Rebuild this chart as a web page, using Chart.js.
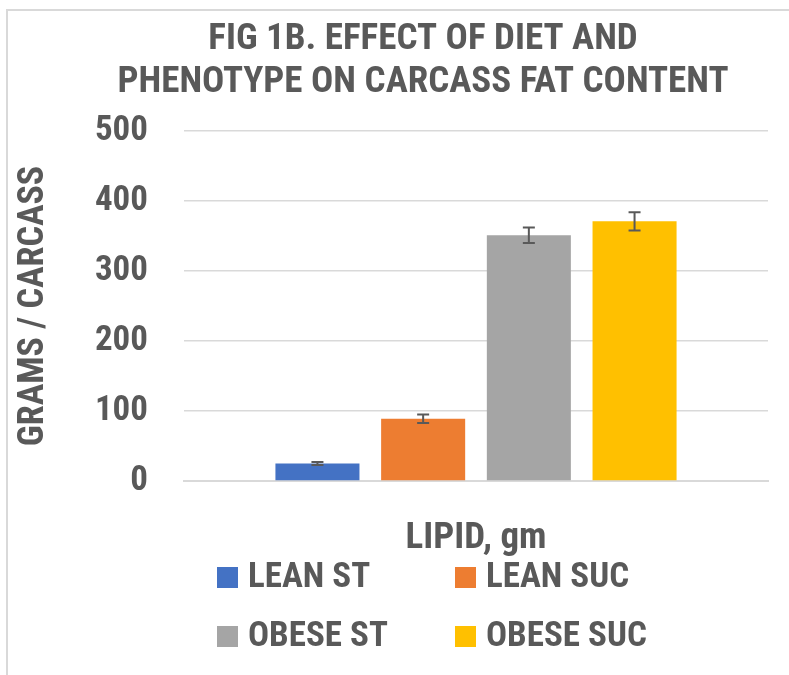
<!DOCTYPE html>
<html>
<head>
<meta charset="utf-8">
<title>Fig 1B</title>
<script src="https://cdn.jsdelivr.net/npm/chart.js@4.4.1/dist/chart.umd.min.js"></script>
<style>
  html, body { margin: 0; padding: 0; background: #fff; overflow: hidden; }
  #wrap { position: relative; width: 789px; height: 675px; overflow: hidden; }
  #frame { position: absolute; left: 6px; top: 9px; width: 900px; height: 700px;
           border-left: 2px solid #d9d9d9; border-top: 2px solid #d9d9d9; }
  #chart { position: absolute; left: 0; top: 0; }
</style>
</head>
<body>
<div id="wrap">
  <div id="frame"></div>
  <canvas id="chart" width="846" height="675"></canvas>
</div>
<script>
const titleLines = ['FIG 1B. EFFECT OF DIET AND', 'PHENOTYPE ON CARCASS FAT CONTENT'];
const categories = [''];
const seriesNames = ['LEAN ST', 'LEAN SUC', 'OBESE ST', 'OBESE SUC'];
const seriesValues = [25, 89, 351, 371];
const seriesErrors = [2, 6, 11, 13];
const seriesColors = ['#4472C4', '#ED7D31', '#A5A5A5', '#FFC000'];
const yTicks = [0, 100, 200, 300, 400, 500];

const textColor = '#595959';
const fontFamily = "'Roboto Condensed', 'Liberation Sans Narrow', sans-serif";

// error bars, drawn through the y scale
const errorBars = {
  id: 'errorBars',
  afterDatasetsDraw(chart) {
    const ctx = chart.ctx;
    const y = chart.scales.y;
    ctx.save();
    ctx.strokeStyle = textColor;
    ctx.lineWidth = 2;
    chart.data.datasets.forEach((ds, i) => {
      const meta = chart.getDatasetMeta(i);
      meta.data.forEach((bar, j) => {
        const v = ds.data[j];
        const e = ds.errors[j];
        const yTop = y.getPixelForValue(v + e);
        const yBot = y.getPixelForValue(v - e);
        const x = bar.x;
        ctx.beginPath();
        ctx.moveTo(x, yTop); ctx.lineTo(x, yBot);
        ctx.moveTo(x - 6, yTop); ctx.lineTo(x + 6, yTop);
        ctx.moveTo(x - 6, yBot); ctx.lineTo(x + 6, yBot);
        ctx.stroke();
      });
    });
    ctx.restore();
  }
};

// two-column legend like the Excel one
const gridLegend = {
  id: 'gridLegend',
  afterDraw(chart) {
    const ctx = chart.ctx;
    const left = chart.chartArea.left;
    const base = chart.scales.x.bottom;
    const colX = [left + 33, left + 271];
    const rowY = [base + 16, base + 75];
    ctx.save();
    ctx.font = 'bold 35px ' + fontFamily;
    ctx.textBaseline = 'middle';
    ctx.textAlign = 'left';
    chart.data.datasets.forEach((ds, i) => {
      const x = colX[i % 2];
      const yc = rowY[Math.floor(i / 2)];
      ctx.fillStyle = ds.backgroundColor;
      ctx.fillRect(x, yc - 10, 21, 21);
      ctx.fillStyle = textColor;
      ctx.fillText(ds.label, x + 31, yc + 1);
    });
    ctx.restore();
  }
};

new Chart(document.getElementById('chart'), {
  type: 'bar',
  data: {
    labels: categories,
    datasets: seriesNames.map((name, i) => ({
      label: name,
      data: [seriesValues[i]],
      errors: [seriesErrors[i]],
      backgroundColor: seriesColors[i],
      categoryPercentage: 0.724,
      barPercentage: 0.795
    }))
  },
  options: {
    responsive: false,
    devicePixelRatio: 1,
    animation: false,
    layout: { padding: { left: 0, right: 0, top: 0, bottom: 114 } },
    plugins: {
      legend: { display: false },
      tooltip: { enabled: false },
      title: {
        display: true,
        text: titleLines,
        color: textColor,
        font: { family: fontFamily, size: 37, weight: 'bold', lineHeight: 43 / 37 },
        padding: { top: 18, bottom: 27 }
      }
    },
    scales: {
      x: {
        grid: { display: false },
        border: { display: true, color: '#d9d9d9', width: 2 },
        ticks: { display: false },
        title: {
          display: true,
          text: 'LIPID, gm',
          color: textColor,
          font: { family: fontFamily, size: 37, weight: 'bold', lineHeight: 1.2 },
          padding: { top: 0, bottom: 0 }
        },
        afterFit(scale) { scale.height = 80; }
      },
      y: {
        min: 0,
        max: 500,
        afterBuildTicks(scale) { scale.ticks = yTicks.map(v => ({ value: v })); },
        grid: { color: '#d9d9d9', lineWidth: 1.5, drawTicks: false },
        border: { display: false },
        ticks: {
          color: textColor,
          padding: 36,
          font: { family: fontFamily, size: 35, weight: 'bold' }
        },
        title: {
          display: true,
          text: 'GRAMS / CARCASS',
          color: textColor,
          font: { family: fontFamily, size: 36, weight: 'bold', lineHeight: 1.2 },
          padding: { top: 12, bottom: 0 }
        },
        afterFit(scale) { scale.width = 184; }
      },
      // empty right-hand space of the original (cropped) chart frame
      yRight: {
        position: 'right',
        display: true,
        grid: { display: false },
        border: { display: false },
        ticks: { display: false },
        afterFit(scale) { scale.width = 78; }
      }
    }
  },
  plugins: [errorBars, gridLegend]
});
</script>
</body>
</html>
